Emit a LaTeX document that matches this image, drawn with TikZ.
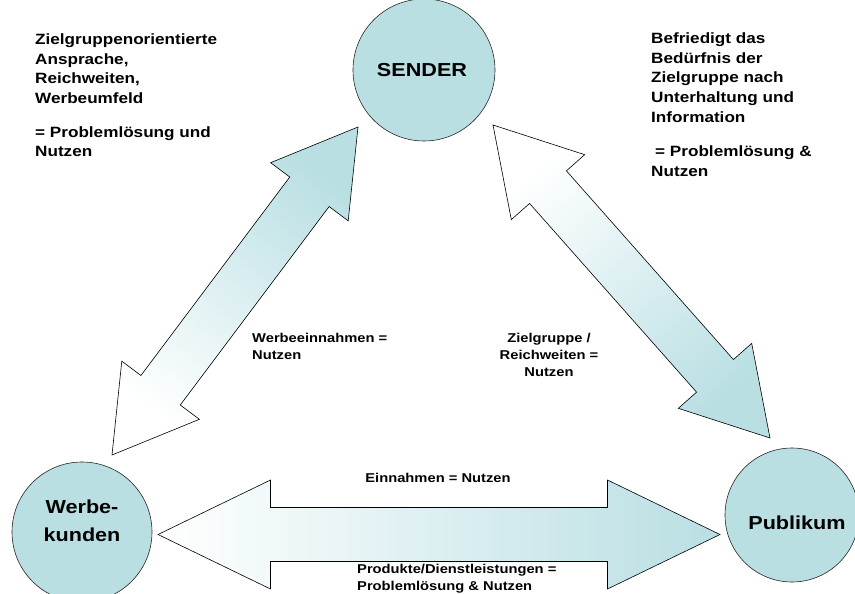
\documentclass[tikz,border=0pt]{standalone}
\usepackage{fontspec}
\setmainfont{Liberation Sans}[FakeStretch=1.15]
\usepackage{xcolor}
\usetikzlibrary{calc}

\definecolor{tealfill}{HTML}{B9DFE3}

% block arrow with a head at both ends: tip, tip, head length, head half width, shaft half width, shading angle
\newcommand{\dblblock}[6]{%
  \coordinate (ha) at ($(#1)!#3!(#2)$);
  \coordinate (hb) at ($(#2)!#3!(#1)$);
  \path[flow, shading angle=#6] (#1)
    -- ($(ha)!#4!90:(#2)$) -- ($(ha)!#5!90:(#2)$)
    -- ($(hb)!#5!-90:(#1)$) -- ($(hb)!#4!-90:(#1)$)
    -- (#2)
    -- ($(hb)!#4!90:(#1)$) -- ($(hb)!#5!90:(#1)$)
    -- ($(ha)!#5!-90:(#2)$) -- ($(ha)!#4!-90:(#2)$)
    -- cycle;
}

\begin{document}
\begin{tikzpicture}[x=1pt, y=-1pt,
    party/.style={circle, draw=black!85, line width=0.6pt, fill=tealfill, inner sep=0pt},
    bigtext/.style={font=\fontsize{18.8}{28}\selectfont\bfseries, align=center, inner sep=0pt},
    note/.style={font=\fontsize{14.9}{19.9}\selectfont\bfseries, align=left, inner sep=0pt, anchor=base west},
    small/.style={font=\fontsize{12.8}{17}\selectfont\bfseries, inner sep=0pt},
    flow/.style={draw=black, line width=0.6pt, top color=tealfill, bottom color=white}]
    \useasboundingbox (0,0) rectangle (855,594);

    \node[party, minimum size=142pt] (snd) at (424,70) {};
    \node[party, minimum size=140pt] (wk) at (82,532) {};
    \node[party, minimum size=134pt] (pub) at (792,515) {};

    \node[bigtext] (sndtxt) at ($(snd)+(-2,0)$) {SENDER};
    \node[bigtext] (wktxt) at ($(wk)+(0,-11)$) {Werbe-\\kunden};
    \node[bigtext] (pubtxt) at ($(pub)+(5,7.5)$) {Publikum};

    \coordinate (ws1) at (112,455);
    \coordinate (ws2) at (358,127);
    \coordinate (sp1) at (493,125);
    \coordinate (sp2) at (770,438);
    \coordinate (wp1) at (158,534.5);
    \coordinate (wp2) at (720,534.5);

    \dblblock{ws1}{ws2}{81pt}{48.5pt}{24.6pt}{-37}
    \dblblock{sp1}{sp2}{83pt}{49pt}{24.6pt}{-138.5}
    \dblblock{wp1}{wp2}{112.5pt}{54.5pt}{27pt}{-90}

    % base of a multi-line node = baseline of its last line
    \node[note] (lnote) at (35,157) {Zielgruppenorientierte\\Ansprache,\\Reichweiten,\\Werbeumfeld\\[13.3pt]= Problemlösung und\\Nutzen};
    \node[note] (rnote) at (651,176) {Befriedigt das\\Bedürfnis der\\Zielgruppe nach\\Unterhaltung und\\Information\\[13.5pt]\hspace*{4pt}= Problemlösung \&\\Nutzen};

    \node[small, align=left, anchor=base west] (wsl) at (252,359.3) {Werbeeinnahmen =\\Nutzen};
    \node[small, align=center, anchor=base] (spl) at (549,376.7) {Zielgruppe /\\Reichweiten =\\Nutzen};
    \node[small, anchor=base] (wpt) at (438,482.7) {Einnahmen = Nutzen};
    \node[small, align=left, anchor=base west] (wpb) at (357,590) {Produkte/Dienstleistungen =\\Problemlösung \& Nutzen};
\end{tikzpicture}
\end{document}
